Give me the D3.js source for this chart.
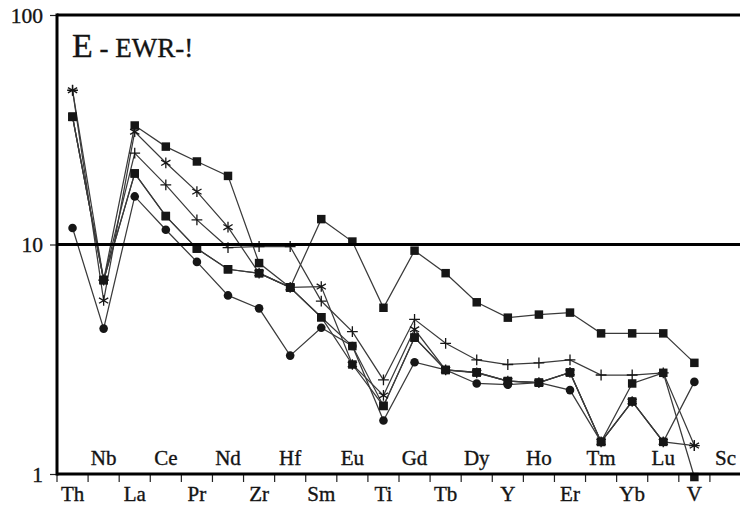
<!DOCTYPE html>
<html>
<head>
<meta charset="utf-8">
<script src="https://cdn.jsdelivr.net/npm/d3@7"></script>
<style>
  html, body { margin: 0; padding: 0; background: #fff; }
  svg { display: block; }
  text { font-family: "Liberation Serif", "DejaVu Serif", serif; fill: #141414; stroke: #141414; stroke-width: 0.35px; }
</style>
</head>
<body>
<svg id="chart" width="740" height="506"></svg>
<script>
// Element order along the x axis
const elements = ["Th","Nb","La","Ce","Pr","Nd","Zr","Hf","Sm","Eu","Ti","Gd","Tb","Dy","Y","Ho","Er","Tm","Yb","Lu","V","Sc"];

// Normalised abundances, one array per sample (null = not analysed)
const sampleA = [36, 7.0, 33, 26.7, 23, 19.9, 8.3, 6.5, 12.9, 10.3, 5.3, 9.4, 7.5, 5.6, 4.8, 4.95, 5.05, 4.1, 4.1, 4.1, 3.05, null];
const sampleB = [47, 5.7, 31, 22.7, 17, 11.9, 7.5, 6.5, 6.56, 3.0, 2.2, 4.27, 2.84, 2.76, 2.54, 2.5, 2.77, 1.38, 2.07, 1.38, 1.33, null];
const sampleC = [47, 7.0, 25, 18.2, 12.8, 9.7, 9.8, 9.8, 5.67, 4.17, 2.57, 4.72, 3.71, 3.14, 3.0, 3.05, 3.14, 2.70, 2.70, 2.76, 1.33, null];
const sampleD = [36, 7.0, 20.4, 13.3, 9.6, 7.8, 7.5, 6.5, 4.82, 3.61, 1.98, 3.93, 2.84, 2.77, 2.54, 2.5, 2.77, 1.38, 2.48, 2.76, 0.97, null];
const sampleE = [11.8, 4.3, 16.2, 11.6, 8.4, 6.0, 5.27, 3.28, 4.34, 3.61, 1.71, 3.07, 2.84, 2.48, 2.45, 2.5, 2.32, 1.38, 2.07, 1.38, 2.52, null];
const sampleF = [36, 7.0, 20.4, 13.3, 9.6, 7.8, 7.5, 6.5, 4.82, 3.0, 1.98, 3.93, 2.84, 2.77, 2.54, 2.5, 2.77, 1.38, 2.07, 1.38, null, null];

const yTicks = [1, 10, 100];
const titleMain = "E";
const titleSub = " - EWR-!";

// Series with their marker kinds
const series = [
  { values: sampleA, marker: "square" },
  { values: sampleB, marker: "asterisk" },
  { values: sampleC, marker: "plus" },
  { values: sampleD, marker: "square" },
  { values: sampleE, marker: "circle" },
  { values: sampleF, marker: "square" }
];

const svg = d3.select("#chart");
const plotLeft = 57, plotRight = 741, plotTop = 15, plotBottom = 474;

const x = d3.scaleBand().domain(elements).range([plotLeft, plotRight]).paddingInner(0).paddingOuter(0);
const y = d3.scaleLog().domain([1, 100]).range([plotBottom, plotTop]);
const cx = d => x(d) + x.bandwidth() / 2;

// Category ticks sit on band boundaries, below the axis
const tickPos = elements.map(e => x(e)).concat([x(elements[elements.length - 1]) + x.bandwidth()]);
svg.append("g").selectAll("line").data(tickPos).join("line")
  .attr("x1", d => d).attr("x2", d => d)
  .attr("y1", plotBottom).attr("y2", plotBottom + 8)
  .attr("stroke", "#222").attr("stroke-width", 1.2);

// Element labels: alternating inside / below the axis
svg.append("g").selectAll("text").data(elements).join("text")
  .attr("x", d => cx(d))
  .attr("y", (d, i) => i % 2 === 0 ? 501 : 465)
  .attr("text-anchor", "middle")
  .attr("font-size", 21)
  .text(d => d);

// Y axis (log) with ticks at decades
const yAxis = d3.axisLeft(y).tickValues(yTicks).tickSize(7).tickPadding(6).tickFormat(d3.format("d"));
const gy = svg.append("g").attr("transform", `translate(${plotLeft},0)`).call(yAxis);
gy.select(".domain").remove();
gy.selectAll(".tick line").attr("stroke", "#222").attr("stroke-width", 1.2);
gy.selectAll(".tick text")
  .attr("font-family", "Liberation Serif, DejaVu Serif, serif")
  .attr("font-size", 21.5).attr("fill", "#141414").attr("x", -14).attr("dy", "0.34em");

// Data lines
const line = d3.line()
  .defined(d => d.v != null)
  .x(d => cx(d.k))
  .y(d => y(d.v));

const gLines = svg.append("g");
series.forEach(s => {
  const pts = elements.map((k, i) => ({ k, v: s.values[i] }));
  gLines.append("path").datum(pts)
    .attr("d", line)
    .attr("fill", "none")
    .attr("stroke", "#3a3a3a")
    .attr("stroke-width", 1.25);
});

// Markers
const symbolFor = {
  square: d3.symbol().type(d3.symbolSquare).size(72),
  circle: d3.symbol().type(d3.symbolCircle).size(58),
  asterisk: d3.symbol().type(d3.symbolAsterisk).size(80),
  plus: d3.symbol().type(d3.symbolPlus).size(40)
};
const drawOrder = ["asterisk", "plus", "square", "circle"];
const gMarks = svg.append("g");
drawOrder.forEach(kind => {
  series.filter(s => s.marker === kind).forEach(s => {
    const pts = elements.map((k, i) => ({ k, v: s.values[i] })).filter(d => d.v != null);
    const stroked = kind === "asterisk" || kind === "plus";
    gMarks.append("g").selectAll("path").data(pts).join("path")
      .attr("transform", d => `translate(${cx(d.k)},${y(d.v)})`)
      .attr("d", symbolFor[kind]())
      .attr("fill", stroked ? "none" : "#161616")
      .attr("stroke", stroked ? "#161616" : "none")
      .attr("stroke-width", stroked ? 1.3 : 0);
  });
});

// Frame and the reference line at 10
const frame = svg.append("g").attr("stroke", "#000").attr("stroke-width", 3).attr("fill", "none");
frame.append("line").attr("x1", plotLeft).attr("x2", plotRight).attr("y1", plotTop).attr("y2", plotTop);
frame.append("line").attr("x1", plotLeft).attr("x2", plotRight).attr("y1", plotBottom).attr("y2", plotBottom);
frame.append("line").attr("x1", plotLeft).attr("x2", plotLeft).attr("y1", plotTop - 1.5).attr("y2", plotBottom + 1.5);
frame.append("line").attr("x1", plotLeft).attr("x2", plotRight).attr("y1", y(10)).attr("y2", y(10));

// Panel title
const title = svg.append("text").attr("x", 72).attr("y", 57);
title.append("tspan").attr("font-size", 34).text(titleMain);
title.append("tspan").attr("font-size", 27).text(titleSub);
</script>
</body>
</html>
